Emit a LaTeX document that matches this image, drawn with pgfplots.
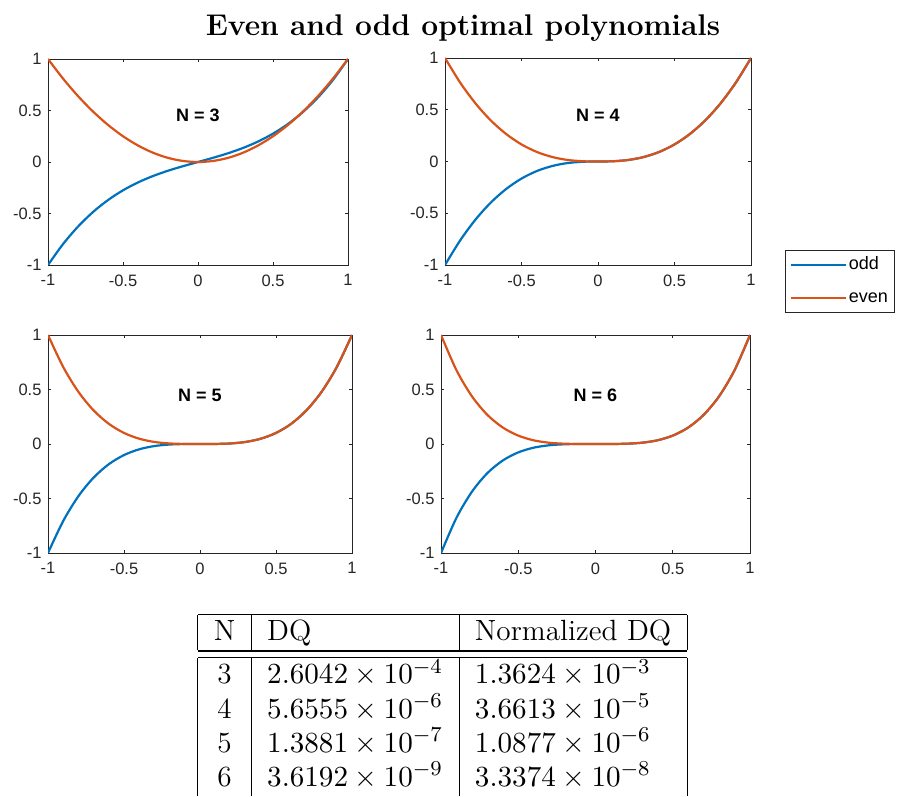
\documentclass[border=0pt]{standalone}
\usepackage{pgfplots}
\pgfplotsset{compat=1.18}
\usepackage{fontspec}
\newfontfamily\arial{Liberation Sans}
\definecolor{mblue}{rgb}{0,0.447,0.741}
\definecolor{morange}{rgb}{0.85,0.325,0.098}
\definecolor{axgray}{rgb}{0.15,0.15,0.15}

\pgfplotstableread{
x y
-1 -1
-0.9 -0.7974
-0.8 -0.6272
-0.7 -0.4858
-0.6 -0.3696
-0.5 -0.275
-0.4 -0.1984
-0.3 -0.1362
-0.2 -0.0848
-0.1 -0.0406
0 0
0.1 0.0406
0.2 0.0848
0.3 0.1362
0.4 0.1984
0.5 0.275
0.6 0.3696
0.7 0.4858
0.8 0.6272
0.9 0.7974
1 1
}\oddthree
\pgfplotstableread{
x y
-1 1
-0.9 0.81
-0.8 0.64
-0.7 0.49
-0.6 0.36
-0.5 0.25
-0.4 0.16
-0.3 0.09
-0.2 0.04
-0.1 0.01
0 0
0.1 0.01
0.2 0.04
0.3 0.09
0.4 0.16
0.5 0.25
0.6 0.36
0.7 0.49
0.8 0.64
0.9 0.81
1 1
}\eventhree
\pgfplotstableread{
x y
-1 -1
-0.9 -0.7603
-0.8 -0.5599
-0.7 -0.3956
-0.6 -0.2650
-0.5 -0.1649
-0.4 -0.0923
-0.3 -0.0437
-0.2 -0.0152
-0.1 -0.0025
0 0
0.1 0.0025
0.2 0.0152
0.3 0.0437
0.4 0.0923
0.5 0.1649
0.6 0.2650
0.7 0.3956
0.8 0.5599
0.9 0.7603
1 1
}\oddfour
\pgfplotstableread{
x y
-1 1
-0.9 0.7603
-0.8 0.5599
-0.7 0.3956
-0.6 0.2650
-0.5 0.1649
-0.4 0.0923
-0.3 0.0437
-0.2 0.0152
-0.1 0.0025
0 0
0.1 0.0025
0.2 0.0152
0.3 0.0437
0.4 0.0923
0.5 0.1649
0.6 0.2650
0.7 0.3956
0.8 0.5599
0.9 0.7603
1 1
}\evenfour
\pgfplotstableread{
x y
-1 -1
-0.9 -0.7063
-0.8 -0.4788
-0.7 -0.3082
-0.6 -0.1853
-0.5 -0.1015
-0.4 -0.0486
-0.3 -0.0188
-0.2 -0.0049
-0.1 -0.0005
0 0
0.1 0.0005
0.2 0.0049
0.3 0.0188
0.4 0.0486
0.5 0.1015
0.6 0.1853
0.7 0.3082
0.8 0.4788
0.9 0.7063
1 1
}\oddfive
\pgfplotstableread{
x y
-1 1
-0.9 0.7063
-0.8 0.4788
-0.7 0.3082
-0.6 0.1853
-0.5 0.1015
-0.4 0.0486
-0.3 0.0188
-0.2 0.0049
-0.1 0.0005
0 0
0.1 0.0005
0.2 0.0049
0.3 0.0188
0.4 0.0486
0.5 0.1015
0.6 0.1853
0.7 0.3082
0.8 0.4788
0.9 0.7063
1 1
}\evenfive
\pgfplotstableread{
x y
-1 -1
-0.9 -0.6771
-0.8 -0.4380
-0.7 -0.2672
-0.6 -0.1511
-0.5 -0.0769
-0.4 -0.0337
-0.3 -0.0116
-0.2 -0.0026
-0.1 -0.0002
0 0
0.1 0.0002
0.2 0.0026
0.3 0.0116
0.4 0.0337
0.5 0.0769
0.6 0.1511
0.7 0.2672
0.8 0.4380
0.9 0.6771
1 1
}\oddsix
\pgfplotstableread{
x y
-1 1
-0.9 0.6771
-0.8 0.4380
-0.7 0.2672
-0.6 0.1511
-0.5 0.0769
-0.4 0.0337
-0.3 0.0116
-0.2 0.0026
-0.1 0.0002
0 0
0.1 0.0002
0.2 0.0026
0.3 0.0116
0.4 0.0337
0.5 0.0769
0.6 0.1511
0.7 0.2672
0.8 0.4380
0.9 0.6771
1 1
}\evensix

\pgfplotsset{
  mstyle/.style={
    scale only axis,
    anchor=south west,
    xmin=-1,xmax=1,ymin=-1,ymax=1,
    xtick={-1,-0.5,0,0.5,1}, ytick={-1,-0.5,0,0.5,1},
    xticklabels={-1,-0.5,0,0.5,1}, yticklabels={-1,-0.5,0,0.5,1},
    tick align=inside,
    major tick length=3pt,
    axis line style={axgray, line width=0.7pt},
    major tick style={axgray, line width=0.6pt},
    ticklabel style={font=\arial\fontsize{16.5}{16.5}\selectfont, text=axgray},
    xticklabel style={yshift=-6pt},
    yticklabel style={xshift=-3pt},
  },
  oddst/.style={mblue, line width=2.2pt, smooth, no markers},
  evenst/.style={morange, line width=2.2pt, smooth, no markers},
}
\tikzset{nlab/.style={font=\arial\bfseries\fontsize{18}{18}\selectfont, text=black}}

\begin{document}
\begin{tikzpicture}
\useasboundingbox (0,0) rectangle (899pt,796pt);

\node[scale=2.72] at (463pt,768pt) {\fontsize{11}{13}\selectfont\bfseries Even and odd optimal polynomials};

\begin{axis}[mstyle, at={(48pt,531pt)}, width=300pt, height=206pt]
\addplot[oddst] table[x=x,y=y] {\oddthree};
\addplot[evenst] table[x=x,y=y] {\eventhree};
\node[nlab] at (axis cs:0,0.45) {N = 3};
\end{axis}

\begin{axis}[mstyle, at={(445pt,531pt)}, width=306pt, height=207pt,
  legend style={at={(1.111,0.072)}, anchor=north west, draw=axgray, line width=0.6pt,
    font=\arial\fontsize{18}{18}\selectfont, inner xsep=5pt, inner ysep=5pt, row sep=13pt,
    nodes={inner sep=1.5pt, text height=13pt, text depth=3.5pt}},
  legend cell align=left,
  legend image code/.code={\draw[#1] (0pt,0pt) -- (55pt,0pt);}]
\addplot[oddst] table[x=x,y=y] {\oddfour};
\addlegendentry{odd}
\addplot[evenst] table[x=x,y=y] {\evenfour};
\addlegendentry{even}
\node[nlab] at (axis cs:0,0.45) {N = 4};
\end{axis}

\begin{axis}[mstyle, at={(48pt,243pt)}, width=304pt, height=218pt]
\addplot[oddst] table[x=x,y=y] {\oddfive};
\addplot[evenst] table[x=x,y=y] {\evenfive};
\node[nlab] at (axis cs:0,0.45) {N = 5};
\end{axis}

\begin{axis}[mstyle, at={(441pt,243pt)}, width=309pt, height=218pt]
\addplot[oddst] table[x=x,y=y] {\oddsix};
\addplot[evenst] table[x=x,y=y] {\evensix};
\node[nlab] at (axis cs:0,0.45) {N = 6};
\end{axis}

\node[anchor=north, inner sep=0pt, scale=2.66] at (442.5pt,183pt) {%
\fontsize{11}{13.6}\selectfont\renewcommand{\arraystretch}{0.9}%
\begin{tabular}{|c|l|l|}
\hline
\rule{0pt}{9.8pt}N & DQ & Normalized DQ\\
\hline
\noalign{\vskip 2.2pt}
\hline
\rule{0pt}{9.6pt}3 & $2.6042\times10^{-4}$ & $1.3624\times10^{-3}$\\
4 & $5.6555\times10^{-6}$ & $3.6613\times10^{-5}$\\
5 & $1.3881\times10^{-7}$ & $1.0877\times10^{-6}$\\
6 & $3.6192\times10^{-9}$ & $3.3374\times10^{-8}$\\
\end{tabular}};
\end{tikzpicture}
\end{document}
